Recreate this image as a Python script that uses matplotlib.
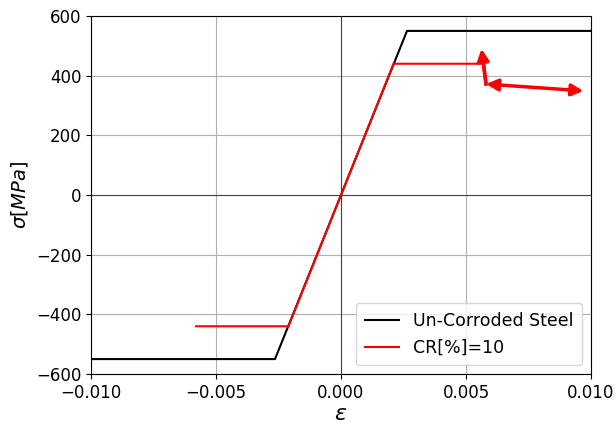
import matplotlib
matplotlib.use("Agg")
import matplotlib.pyplot as plt

# Un-corroded steel
steel_eps = [-0.010, -0.00264, 0.00264, 0.010]
steel_sig = [-550, -550, 550, 550]

# Corroded CR=10%
cr_eps = [-0.0058, -0.0021, 0.0021, 0.0057]
cr_sig = [-440, -440, 440, 440]

# Arrow annotations (tail -> head)
arrow_up = ((0.0058, 372), (0.00562, 490))
arrow_double = ((0.0058, 372), (0.0097, 349))

fig = plt.figure(figsize=(6.16, 4.25), dpi=100)
ax = fig.add_axes([91/616, 1-374/425, 500/616, 358/425])
ax.plot(steel_eps, steel_sig, color='black', lw=1.5, label='Un-Corroded Steel')
ax.plot(cr_eps, cr_sig, color='red', lw=1.5, label='CR[%]=10')
ax.plot([cr_eps[-1], arrow_up[0][0]], [cr_sig[-1], arrow_up[0][1]], color='red', lw=2.5)
ax.annotate('', xy=arrow_up[1], xytext=arrow_up[0],
            arrowprops=dict(arrowstyle='-|>,head_length=0.7,head_width=0.35', color='red', lw=2.5, shrinkA=0, shrinkB=0))
ax.annotate('', xy=arrow_double[1], xytext=arrow_double[0],
            arrowprops=dict(arrowstyle='<|-|>,head_length=0.7,head_width=0.35', color='red', lw=2.5, shrinkA=0, shrinkB=0))
ax.grid(True, color='#b0b0b0', lw=0.8, zorder=0)
ax.set_axisbelow(True)
ax.axhline(0, color='#444444', lw=0.8, zorder=1)
ax.axvline(0, color='#444444', lw=0.8, zorder=1)
ax.set_xlim(-0.010, 0.010)
ax.set_ylim(-600, 600)
ax.set_xticks([-0.010, -0.005, 0.0, 0.005, 0.010])
ax.set_xticklabels(['\u22120.010', '\u22120.005', '0.000', '0.005', '0.010'])
ax.tick_params(labelsize=12)
ax.set_xlabel(r'$\varepsilon$', fontsize=16, labelpad=2)
ax.set_ylabel(r'$\sigma[MPa]$', fontsize=14)
ax.legend(loc='lower right', fontsize=12.5, handlelength=2.0, borderpad=0.5)
fig.savefig('out.png', dpi=100)
